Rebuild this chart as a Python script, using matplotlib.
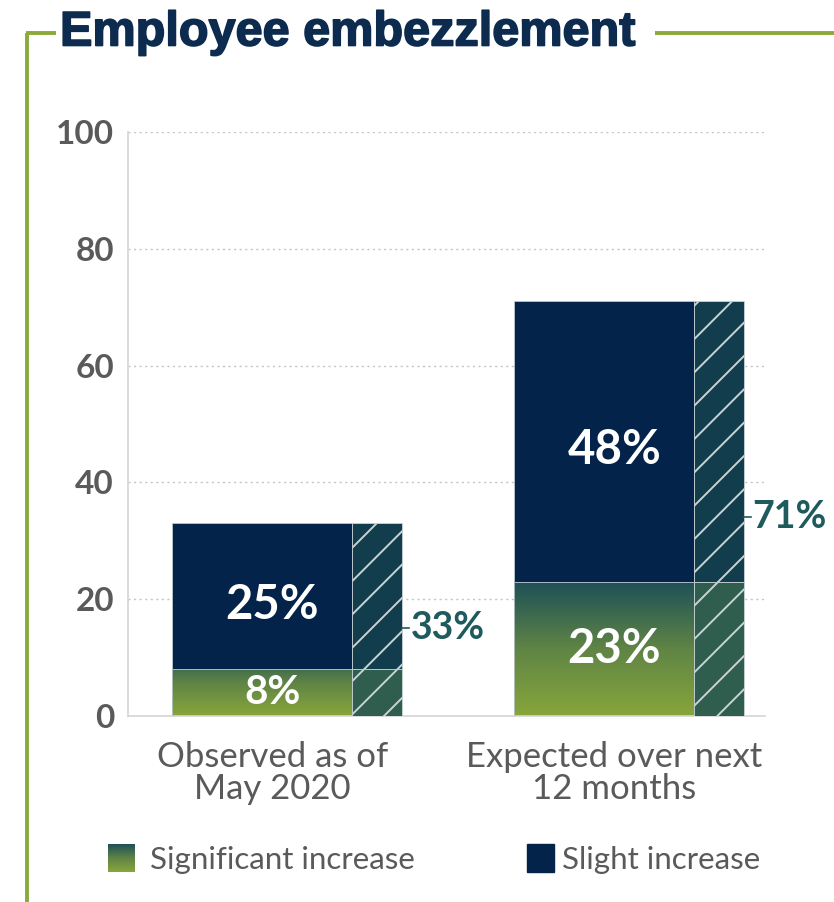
import numpy as np
import matplotlib
matplotlib.use("Agg")
import matplotlib.pyplot as plt
import matplotlib.patheffects as pe
from matplotlib.colors import LinearSegmentedColormap

# data
categories = ["Observed as of\nMay 2020", "Expected over next\n12 months"]
significant = [8, 23]
slight = [25, 48]
totals = [a + b for a, b in zip(significant, slight)]
yticks = [0, 20, 40, 60, 80, 100]
legend_labels = ["Significant increase", "Slight increase"]

navy = "#03234b"
green_cm = LinearSegmentedColormap.from_list("g", ["#88a63b", "#5f8445", "#1d5058"])
total_col = "#1f5b5c"
grey = "#5a5a5a"
frame_col = "#8aaa3c"

plt.rcParams["font.family"] = ["Lato", "DejaVu Sans"]
plt.rcParams["hatch.linewidth"] = 1.4

fig = plt.figure(figsize=(8.34, 9.02), dpi=100)
W, H = 834, 902

# main axes
ax = fig.add_axes([128 / W, 1 - 716 / H, (765 - 128) / W, (716 - 132) / H])
x = np.arange(len(categories))
bw = 0.526
sw = 0.146
soff = bw / 2 + sw / 2
ax.set_xlim(-0.392, 1.471)
ax.set_ylim(0, 100)

smax = max(significant)
for i in range(len(categories)):
    xc = x[i]
    # gradient significant segment (shorter bars don't reach the darkest tone)
    top = 0.55 + 0.45 * significant[i] / smax
    grad = np.linspace(0, top, 256).reshape(-1, 1)
    ax.imshow(grad, cmap=green_cm, vmin=0, vmax=1, aspect="auto", origin="lower",
              extent=[xc - bw / 2, xc + bw / 2, 0, significant[i]], zorder=2)
    ax.bar(xc, significant[i], bw, color="none", edgecolor="#b9c7c9", linewidth=0.6, zorder=3)
    ax.bar(xc, slight[i], bw, bottom=significant[i], color=navy,
           edgecolor="#b9c7c9", linewidth=0.6, zorder=3)
    # hatched total strip
    ax.bar(xc + soff, significant[i], sw, color="#2f5e4e", edgecolor="#c9d3d5",
           hatch="/", linewidth=0.6, zorder=3)
    ax.bar(xc + soff, slight[i], sw, bottom=significant[i], color="#113d4d",
           edgecolor="#c9d3d5", hatch="/", linewidth=0.6, zorder=3)
    # labels
    ax.text(xc + 0.03, significant[i] / 2, f"{significant[i]}%", ha="center", va="center",
            color="white", fontsize=29 if significant[i] < 10 else 34,
            fontweight="bold", zorder=5)
    ax.text(xc + 0.03, significant[i] + slight[i] / 2 - 1.5, f"{slight[i]}%", ha="center",
            va="center", color="white", fontsize=34, fontweight="bold", zorder=5)
    xe = xc + soff + sw / 2
    ax.plot([xe, xe + 0.02], [totals[i] / 2 - 1.5] * 2, color=total_col, lw=1.2,
            zorder=5, clip_on=False)
    ax.text(xe + 0.025, totals[i] / 2 - 1.5, f"{totals[i]}%", ha="left", va="center",
            color=total_col, fontsize=27, fontweight="bold", zorder=5)

ax.set_yticks(yticks)
ax.set_yticklabels([str(t) for t in yticks], fontsize=24, fontweight="bold", color=grey)
ax.set_xticks(x + 0.03)
ax.set_xticklabels(categories, fontsize=25, color=grey, linespacing=1.0)
ax.tick_params(axis="both", length=0)
ax.tick_params(axis="y", pad=10)
ax.tick_params(axis="x", pad=18)
for t in yticks[1:]:
    ax.axhline(t, color="#c4c4c4", lw=1.0, ls=(0, (1.5, 2.5)), zorder=1)
for s in ["right", "top"]:
    ax.spines[s].set_visible(False)
for s in ["bottom", "left"]:
    ax.spines[s].set_color("#d4d4d4")
    ax.spines[s].set_linewidth(1.2)

# overlay: frame, title, legend
ov = fig.add_axes([0, 0, 1, 1], zorder=10)
ov.axis("off")
ov.patch.set_alpha(0)
ov.plot([27, 27], [33, H], color=frame_col, lw=2.8, solid_capstyle="butt")
ov.plot([26, 56], [33, 33], color=frame_col, lw=2.8, solid_capstyle="butt")
ov.plot([655, W], [33, 33], color=frame_col, lw=2.8, solid_capstyle="butt")
ov.text(60, 33, "Employee embezzlement", ha="left", va="center", fontsize=35,
        fontweight="bold", color="#0d2b4e", family=["Liberation Sans", "DejaVu Sans"],
        path_effects=[pe.withStroke(linewidth=1.2, foreground="#0d2b4e")])

grad = np.linspace(0, 1, 256).reshape(-1, 1)
ov.imshow(grad, cmap=green_cm, aspect="auto", origin="lower", extent=[108, 135, 872, 844])
ov.add_patch(plt.Rectangle((527, 844), 27, 28, color=navy))
ov.text(150, 860, legend_labels[0], ha="left", va="center", fontsize=22.5, color=grey)
ov.text(562, 860, legend_labels[1], ha="left", va="center", fontsize=22.5, color=grey)
ov.set_xlim(0, W)
ov.set_ylim(H, 0)

fig.savefig("out.png", dpi=100)
